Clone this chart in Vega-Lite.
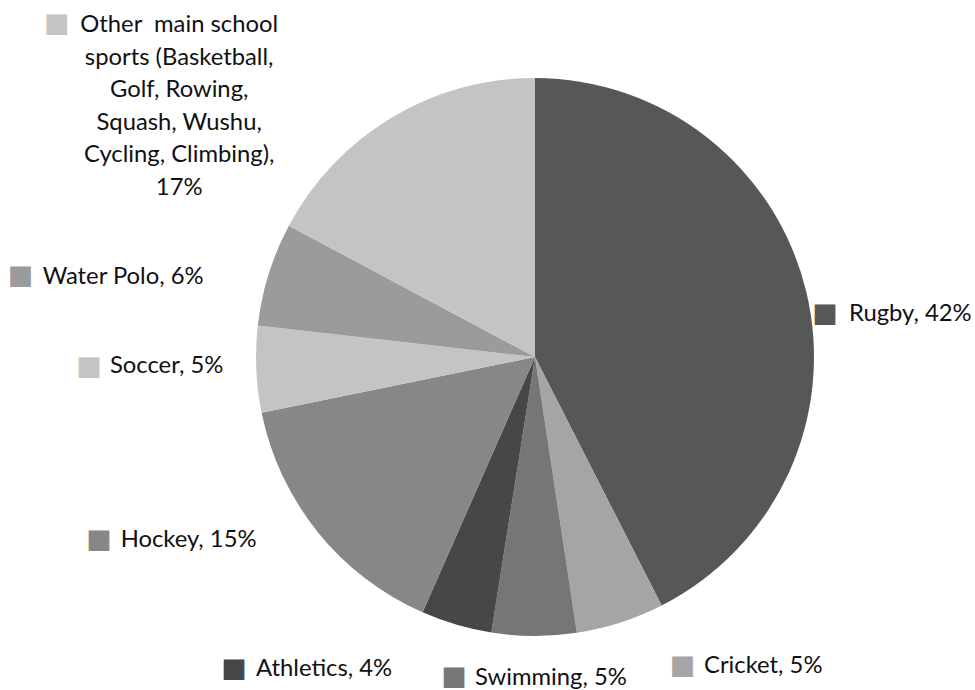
{
  "$schema": "https://vega.github.io/schema/vega-lite/v6.json",
  "width": 880,
  "height": 666,
  "autosize": {"type": "none"},
  "padding": {"left": 95, "top": 24, "right": 0, "bottom": 0},
  "background": "white",
  "config": {"view": {"stroke": null}},
  "data": {"values": [
    {"n": 1, "sport": "Rugby", "value": 42.5, "label": "Rugby, 42%"},
    {"n": 2, "sport": "Cricket", "value": 5.1, "label": "Cricket, 5%"},
    {"n": 3, "sport": "Swimming", "value": 4.9, "label": "Swimming, 5%"},
    {"n": 4, "sport": "Athletics", "value": 4.1, "label": "Athletics, 4%"},
    {"n": 5, "sport": "Hockey", "value": 15.2, "label": "Hockey, 15%"},
    {"n": 6, "sport": "Soccer", "value": 5.0, "label": "Soccer, 5%"},
    {"n": 7, "sport": "Water Polo", "value": 6.0, "label": "Water Polo, 6%"},
    {"n": 8, "sport": "Other main school sports (Basketball, Golf, Rowing, Squash, Wushu, Cycling, Climbing)", "value": 17.2, "label": "Other\u00a0 main school\nsports (Basketball,\nGolf, Rowing,\nSquash, Wushu,\nCycling, Climbing),\n17%"}
  ]},
  "encoding": {
    "theta": {"field": "value", "type": "quantitative", "stack": true},
    "order": {"field": "n", "type": "quantitative"}
  },
  "layer": [
    {"mark": {"type": "arc", "outerRadius": 279},
     "encoding": {"color": {"field": "sport", "type": "nominal", "legend": null,
       "scale": {"domain": ["Rugby", "Cricket", "Swimming", "Athletics", "Hockey", "Soccer", "Water Polo", "Other main school sports (Basketball, Golf, Rowing, Squash, Wushu, Cycling, Climbing)"],
                 "range": ["#575757", "#a5a5a5", "#767676", "#474747", "#878787", "#c4c4c4", "#9b9b9b", "#c4c4c4"]}}}},

    {"mark": {"type": "text", "radius": 300, "dx": 22.3, "dy": 27, "align": "left", "baseline": "middle", "font": "Lato", "fontSize": 23.8, "color": "#111111"},
     "encoding": {"detail": {"field": "sport"}, "text": {"condition": {"test": "datum.n === 1", "field": "label"}, "value": ""}}},
    {"mark": {"type": "text", "radius": 300, "dx": 77.3, "dy": 23.4, "align": "left", "baseline": "middle", "font": "Lato", "fontSize": 23.8, "color": "#111111"},
     "encoding": {"detail": {"field": "sport"}, "text": {"condition": {"test": "datum.n === 2", "field": "label"}, "value": ""}}},
    {"mark": {"type": "text", "radius": 300, "dx": -59, "dy": 21, "align": "left", "baseline": "middle", "font": "Lato", "fontSize": 23.8, "color": "#111111"},
     "encoding": {"detail": {"field": "sport"}, "text": {"condition": {"test": "datum.n === 3", "field": "label"}, "value": ""}}},
    {"mark": {"type": "text", "radius": 300, "dx": -194.3, "dy": 24.2, "align": "left", "baseline": "middle", "font": "Lato", "fontSize": 23.8, "color": "#111111"},
     "encoding": {"detail": {"field": "sport"}, "text": {"condition": {"test": "datum.n === 4", "field": "label"}, "value": ""}}},
    {"mark": {"type": "text", "radius": 300, "dx": -180.8, "dy": -5.4, "align": "left", "baseline": "middle", "font": "Lato", "fontSize": 23.8, "color": "#111111"},
     "encoding": {"detail": {"field": "sport"}, "text": {"condition": {"test": "datum.n === 5", "field": "label"}, "value": ""}}},
    {"mark": {"type": "text", "radius": 300, "dx": -125.3, "dy": -4.1, "align": "left", "baseline": "middle", "font": "Lato", "fontSize": 23.8, "color": "#111111"},
     "encoding": {"detail": {"field": "sport"}, "text": {"condition": {"test": "datum.n === 6", "field": "label"}, "value": ""}}},
    {"mark": {"type": "text", "radius": 300, "dx": -205.9, "dy": 8.9, "align": "left", "baseline": "middle", "font": "Lato", "fontSize": 23.8, "color": "#111111"},
     "encoding": {"detail": {"field": "sport"}, "text": {"condition": {"test": "datum.n === 7", "field": "label"}, "value": ""}}},
    {"mark": {"type": "text", "radius": 300, "dx": -201.5, "dy": -74.8, "align": "center", "baseline": "middle", "lineBreak": "\n", "lineHeight": 32.6, "font": "Lato", "fontSize": 23.8, "color": "#111111"},
     "encoding": {"detail": {"field": "sport"}, "text": {"condition": {"test": "datum.n === 8", "field": "label"}, "value": ""}}},

    {"mark": {"type": "text", "radius": 300, "dx": -1.7, "dy": 27, "align": "center", "baseline": "middle", "font": "DejaVu Sans", "fontSize": 27},
     "encoding": {"color": {"field": "sport", "type": "nominal", "legend": null}, "text": {"condition": {"test": "datum.n === 1", "value": "■"}, "value": ""}}},
    {"mark": {"type": "text", "radius": 300, "dx": 55.8, "dy": 22.9, "align": "center", "baseline": "middle", "font": "DejaVu Sans", "fontSize": 27},
     "encoding": {"color": {"field": "sport", "type": "nominal", "legend": null}, "text": {"condition": {"test": "datum.n === 2", "value": "■"}, "value": ""}}},
    {"mark": {"type": "text", "radius": 300, "dx": -80, "dy": 20.5, "align": "center", "baseline": "middle", "font": "DejaVu Sans", "fontSize": 27},
     "encoding": {"color": {"field": "sport", "type": "nominal", "legend": null}, "text": {"condition": {"test": "datum.n === 3", "value": "■"}, "value": ""}}},
    {"mark": {"type": "text", "radius": 300, "dx": -216.3, "dy": 24.2, "align": "center", "baseline": "middle", "font": "DejaVu Sans", "fontSize": 27},
     "encoding": {"color": {"field": "sport", "type": "nominal", "legend": null}, "text": {"condition": {"test": "datum.n === 4", "value": "■"}, "value": ""}}},
    {"mark": {"type": "text", "radius": 300, "dx": -202.5, "dy": -4.9, "align": "center", "baseline": "middle", "font": "DejaVu Sans", "fontSize": 27},
     "encoding": {"color": {"field": "sport", "type": "nominal", "legend": null}, "text": {"condition": {"test": "datum.n === 5", "value": "■"}, "value": ""}}},
    {"mark": {"type": "text", "radius": 300, "dx": -146.3, "dy": -3.6, "align": "center", "baseline": "middle", "font": "DejaVu Sans", "fontSize": 27},
     "encoding": {"color": {"field": "sport", "type": "nominal", "legend": null}, "text": {"condition": {"test": "datum.n === 6", "value": "■"}, "value": ""}}},
    {"mark": {"type": "text", "radius": 300, "dx": -228.1, "dy": 7.7, "align": "center", "baseline": "middle", "font": "DejaVu Sans", "fontSize": 27},
     "encoding": {"color": {"field": "sport", "type": "nominal", "legend": null}, "text": {"condition": {"test": "datum.n === 7", "value": "■"}, "value": ""}}},
    {"mark": {"type": "text", "radius": 300, "dx": -323.8, "dy": -75.8, "align": "center", "baseline": "middle", "font": "DejaVu Sans", "fontSize": 27},
     "encoding": {"color": {"field": "sport", "type": "nominal", "legend": null}, "text": {"condition": {"test": "datum.n === 8", "value": "■"}, "value": ""}}}
  ]
}
